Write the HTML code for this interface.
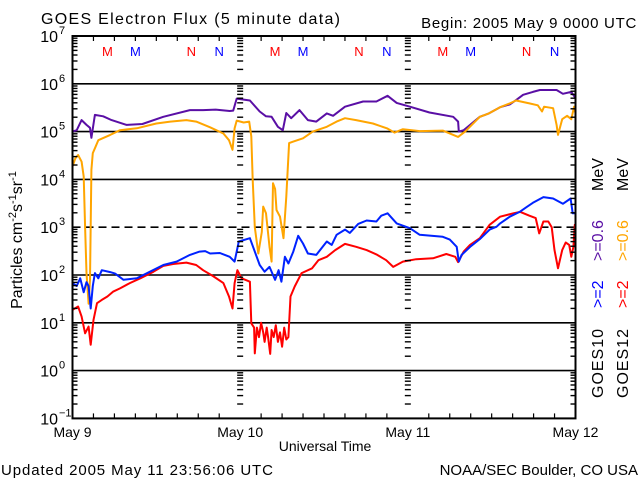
<!DOCTYPE html>
<html><head><meta charset="utf-8"><style>
html,body{margin:0;padding:0;background:#fff}
svg{display:block;font-family:"Liberation Sans",sans-serif}
</style></head><body>
<svg id="chart" width="640" height="480" viewBox="0 0 640 480" xmlns="http://www.w3.org/2000/svg">
<rect width="640" height="480" fill="#fff"/>
<text x="41" y="24" font-size="16" letter-spacing="1.3" fill="#000">GOES Electron Flux (5 minute data)</text>
<text x="637" y="28" font-size="15" letter-spacing="0.7" text-anchor="end" fill="#000">Begin: 2005 May 9 0000 UTC</text>
<g id="grid"></g>
<g id="series"></g>
<g id="axes"></g>
<text transform="translate(22,240) rotate(-90)" font-size="16" text-anchor="middle" fill="#000">Particles cm<tspan dy="-6" font-size="11">-2</tspan><tspan dy="6">s</tspan><tspan dy="-6" font-size="11">-1</tspan><tspan dy="6">sr</tspan><tspan dy="-6" font-size="11">-1</tspan></text>
<text x="325" y="451" font-size="14" text-anchor="middle" fill="#000">Universal Time</text>
<text x="1" y="475" font-size="15" letter-spacing="0.9" fill="#000">Updated 2005 May 11 23:56:06 UTC</text>
<text x="638" y="475" font-size="15" text-anchor="end" fill="#000">NOAA/SEC Boulder, CO USA</text>
<g font-size="16">
<text transform="translate(603,398) rotate(-90)" fill="#000" letter-spacing="1">GOES10</text>
<text transform="translate(603,308) rotate(-90)" fill="#0000ff">&gt;=2</text>
<text transform="translate(603,261) rotate(-90)" fill="#5a0fa5">&gt;=0.6</text>
<text transform="translate(603,191) rotate(-90)" fill="#000">MeV</text>
</g>
<g font-size="16">
<text transform="translate(628,398) rotate(-90)" fill="#000" letter-spacing="1">GOES12</text>
<text transform="translate(628,308) rotate(-90)" fill="#ff0000">&gt;=2</text>
<text transform="translate(628,261) rotate(-90)" fill="#ffa500">&gt;=0.6</text>
<text transform="translate(628,191) rotate(-90)" fill="#000">MeV</text>
</g>
</svg>
<script>
const dayLabels = ["May 9","May 10","May 11","May 12"];
const decades = [-1,0,1,2,3,4,5,6,7];
const markerHours = [5,9,17,21,29,33,41,45,53,57,65,69];
const markerText = ["M","M","N","N","M","M","N","N","M","M","N","N"];
const markerColor = ["#ff0000","#0000ff","#ff0000","#0000ff","#ff0000","#0000ff","#ff0000","#0000ff","#ff0000","#0000ff","#ff0000","#0000ff"];

const g10hiHours = [0,0.6,1.3,2,2.5,2.7,3.2,4.4,5.6,7.75,10,13,16.8,18.7,20.5,22.5,23,23.5,25.4,26.8,27.7,28.5,29.4,30.1,30.6,31.3,32.5,33.7,34.9,36.4,37.3,39,41.6,43.5,45.1,46.4,48.3,51.1,54.5,55.2,55.3,56,58.3,59.6,61.2,62.6,63.5,64.5,65.9,66.9,69.3,70.2,71.4,72];
const g10hiLog = [5.0,5.03,5.24,5.14,5.08,4.87,5.35,5.32,5.24,5.14,5.16,5.31,5.45,5.45,5.46,5.43,5.44,5.69,5.65,5.42,5.32,5.31,5.10,5.03,5.39,5.28,5.45,5.24,5.21,5.38,5.33,5.52,5.63,5.63,5.75,5.60,5.52,5.40,5.31,5.21,5.0,5.03,5.31,5.38,5.51,5.57,5.66,5.77,5.83,5.87,5.87,5.79,5.83,5.7];

const g12hiHours = [0,0.4,0.8,1.3,1.6,1.8,2.0,2.3,2.5,2.7,2.9,3.2,3.7,5.4,6.8,9.2,12,14,16.3,17.7,19.7,21.6,22.4,22.9,23.2,23.5,24.5,25.3,25.6,25.8,26.1,26.6,27.1,27.3,27.7,28.2,28.5,28.7,29,29.2,29.7,30.2,30.6,31,31.6,33,34.4,36.4,37.8,39,40.6,43,45,46.1,47.3,49.7,53,55.2,56.2,58.3,59.6,61.2,62.6,63.5,65.4,66.6,67.2,67.5,68.8,69.3,69.5,70.1,70.8,71.4,71.8,72];
const g12hiLog = [4.27,4.44,4.51,4.37,4.06,3.0,2.04,1.4,1.9,4.2,4.55,4.65,4.82,4.93,5.03,5.07,5.17,5.21,5.24,5.21,5.09,4.96,4.82,4.62,5.07,5.23,5.19,5.21,4.9,3.99,3.0,2.45,2.9,3.43,3.29,2.59,2.28,3.92,3.8,3.36,3.22,2.77,3.64,4.76,4.79,4.86,5.0,5.10,5.21,5.28,5.24,5.17,5.07,4.98,5.05,5.01,5.02,4.89,5.0,5.31,5.38,5.51,5.59,5.65,5.59,5.55,5.42,5.52,5.49,5.14,4.93,5.26,5.33,5.26,5.52,5.38];

const g10loHours = [0,0.6,1.1,1.6,2.0,2.3,2.6,2.9,3.2,3.7,4.2,5.4,6.1,7.3,9.2,11.1,13,14.9,16.8,18.2,19.0,19.7,21.1,22.5,23.2,23.8,25.4,26,26.8,27.5,28.2,29,29.5,29.9,30.4,30.9,31.6,32.3,33,33.7,34.9,36.4,37.1,37.8,39,39.7,40.9,42.1,43.5,44.2,45.1,46.4,48.3,49.7,53,54,55,55.3,55.7,57,58.3,59.7,60.7,61.2,62.6,64,65,65.9,67.4,68.8,70.2,71.3,71.6,72];
const g10loLog = [1.83,1.77,1.93,1.64,1.85,1.77,1.3,1.77,2.04,1.93,2.1,2.06,2.03,1.9,1.93,2.07,2.21,2.28,2.42,2.49,2.5,2.45,2.46,2.38,2.28,2.70,2.77,2.53,2.21,2.07,2.17,1.9,2.1,1.86,2.38,2.24,2.49,2.82,2.66,2.45,2.42,2.70,2.63,2.84,2.95,2.88,3.07,3.14,3.12,3.24,3.29,3.08,2.98,2.84,2.80,2.74,2.59,2.28,2.42,2.6,2.75,2.95,3.01,3.08,3.22,3.32,3.42,3.51,3.63,3.6,3.49,3.60,3.29,3.29];

const g12loHours = [0,0.8,1.3,1.8,2.3,2.6,3.0,3.5,4.2,5.0,5.8,6.8,8.2,9.7,11.6,13,14.4,16.3,17.7,18.7,20.1,21.6,22.4,22.9,23.2,23.6,24.2,25.4,25.6,26.0,26.1,26.4,26.7,27.0,27.3,27.5,27.8,28.0,28.3,28.5,28.8,29.1,29.4,29.7,30.0,30.3,30.6,30.9,31.2,31.8,32.8,34.3,35.2,36.4,37.6,39,40.6,42.1,43.5,44.9,45.9,47.3,49.2,51.6,53.5,54.8,55.2,56,56.9,58.3,59.7,61.2,63.1,64.1,65.4,66.3,66.8,67.4,68.1,68.6,69.0,69.5,70.1,70.6,71.1,71.4,71.7,71.9,72];
const g12loLog = [1.27,1.34,1.13,0.78,0.92,0.54,1.06,1.41,1.48,1.55,1.65,1.72,1.83,1.93,2.07,2.19,2.23,2.26,2.21,2.10,1.98,1.83,1.55,1.30,1.83,2.1,1.93,1.86,0.99,0.9,0.36,0.9,0.7,1.0,0.8,0.6,0.9,0.7,0.35,0.85,0.7,0.95,0.6,0.8,0.5,0.9,0.65,0.7,1.55,1.76,2.04,2.14,2.31,2.38,2.52,2.65,2.59,2.52,2.43,2.31,2.17,2.28,2.33,2.35,2.44,2.38,2.27,2.49,2.63,2.77,3.05,3.22,3.29,3.32,3.24,3.19,2.87,3.12,3.12,3.0,2.52,2.14,2.52,2.68,2.63,2.38,2.59,3.05,2.8];

const NS = "http://www.w3.org/2000/svg";
const X0 = 72.5, X1 = 575.5, YT = 36, YB = 418.4;
function xs(h){ return X0 + (h/72)*(X1-X0); }
function ys(l){ return YT + (7-l)*(YB-YT)/8; }
function mk(tag, attrs, parent){
  const e = document.createElementNS(NS, tag);
  for (const k in attrs) e.setAttribute(k, attrs[k]);
  parent.appendChild(e); return e;
}
const grid = document.getElementById("grid");
const axes = document.getElementById("axes");
const series = document.getElementById("series");

decades.forEach(d => {
  if (d < 0 || d > 6) return;
  const ln = mk("line", {x1:X0, x2:X1, y1:ys(d), y2:ys(d), stroke:"#000", "stroke-width":1.6}, grid);
  if (d === 3) ln.setAttribute("stroke-dasharray","8,5");
  
  
});

const tickCols = [X0, xs(24), xs(48), X1];
decades.forEach(d => {
  const lbl = mk("text", {x:58, y:ys(d)+6, "font-size":16, "text-anchor":"end", fill:"#000"}, axes);
  lbl.textContent = "10";
  
  
  const sup = mk("text", {x:59, y:ys(d)-2, "font-size":11, fill:"#000"}, axes);
  sup.textContent = String(d).replace("-", "\u2212");
  
  
  if (d === 7) return;
  for (let m = 2; m <= 9; m++) {
    const y = ys(d + Math.log10(m));
    tickCols.forEach((cx, i) => {
      let x1, x2;
      if (i === 0) { x1 = cx; x2 = cx + 5; }
      else if (i === 3) { x1 = cx - 5; x2 = cx; }
      else { x1 = cx - 3; x2 = cx + 3; }
      const t = mk("line", {x1:x1, x2:x2, y1:y, y2:y, stroke:"#000", "stroke-width":1.4}, axes);
      
      
    });
  }
});

for (let h = 3; h < 72; h += 3) {
  if (h % 24 === 0) continue;
  [[YB, YB-5],[YT, YT+5]].forEach(p => {
    const t = mk("line", {x1:xs(h), x2:xs(h), y1:p[0], y2:p[1], stroke:"#000", "stroke-width":1.2}, axes);
    
    
  });
}
dayLabels.forEach((s, i) => {
  const t = mk("text", {x:xs(i*24), y:437, "font-size":14, "text-anchor":"middle", fill:"#000"}, axes);
  t.textContent = s;
  
  
});
markerHours.forEach((h, i) => {
  const t = mk("text", {x:xs(h), y:56, "font-size":13, "text-anchor":"middle", fill:markerColor[i]}, axes);
  t.textContent = markerText[i];
  
  
});
const frame = mk("rect", {x:X0, y:YT, width:X1-X0, height:YB-YT, fill:"none", stroke:"#000", "stroke-width":2}, axes);



function drawSeries(hours, logs, color, name){
  const pts = hours.map((h, i) => xs(h).toFixed(1) + "," + ys(logs[i]).toFixed(1)).join(" ");
  const pl = mk("polyline", {points:pts, fill:"none", stroke:color, "stroke-width":2, "stroke-linejoin":"round"}, series);
  
  
}
drawSeries(g10hiHours, g10hiLog, "#5a0fa5", "series-goes10-ge0.6mev");
drawSeries(g12hiHours, g12hiLog, "#ffa500", "series-goes12-ge0.6mev");
drawSeries(g12loHours, g12loLog, "#ff0000", "series-goes12-ge2mev");
drawSeries(g10loHours, g10loLog, "#0022ff", "series-goes10-ge2mev");
</script>
</body></html>
